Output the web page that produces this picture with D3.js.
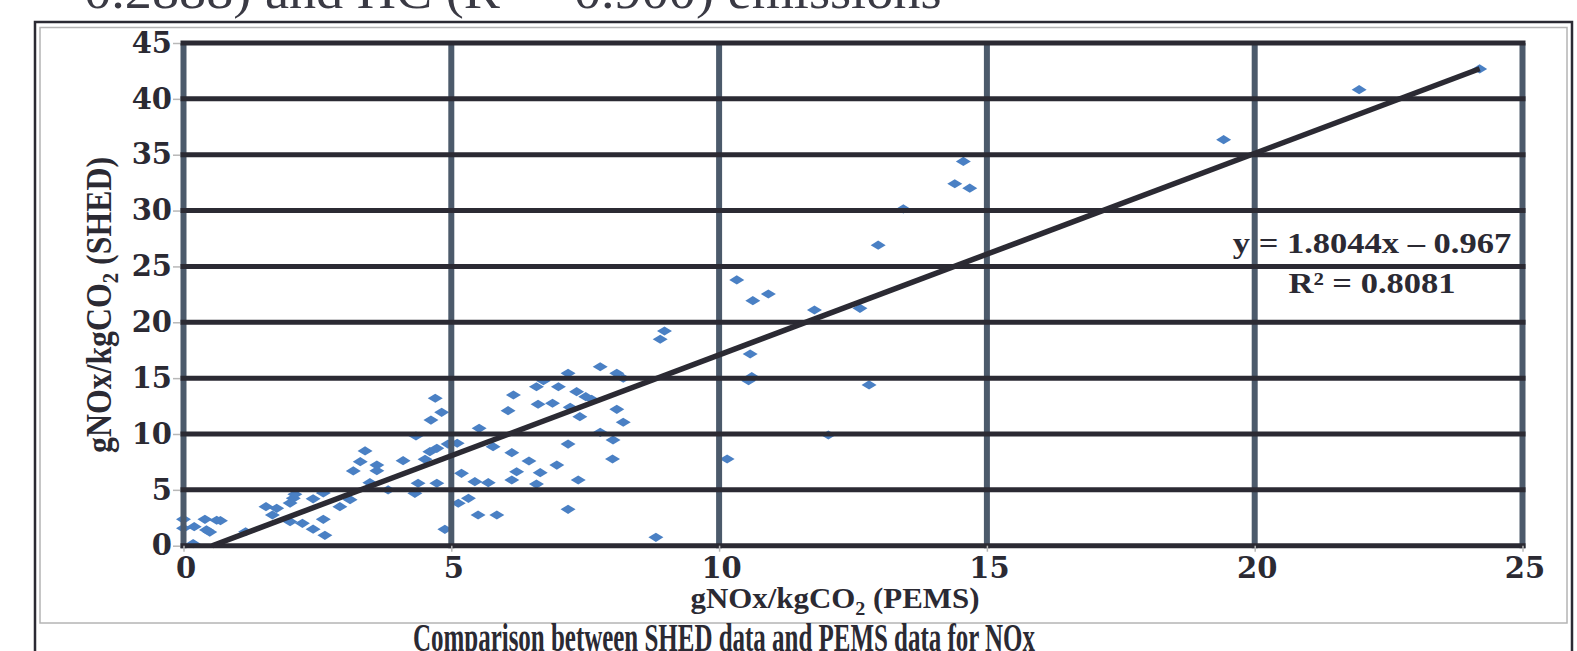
<!DOCTYPE html>
<html lang="en">
<head>
    <meta charset="UTF-8">
    <title>SHED vs PEMS NOx</title>
    <script src="https://d3js.org/d3.v7.min.js"></script>
    <style>
        body { margin: 0; background: #fff; }
        svg { display: block; }
    </style>
</head>
<body>
    <div class="canvas"></div>
    <script>
        const width = 1577;
        const height = 651;

        // values
        const pemsX = [
            0.00, 0.00, 0.20, 0.40, 0.62, 0.69, 0.43, 0.49, 0.18, 1.16,
            1.54, 1.74, 1.66, 1.99, 2.05, 2.08, 2.42, 2.61, 3.11, 2.92,
            2.22, 2.42, 2.61, 2.64, 1.99,
            3.17, 3.30, 3.39, 3.61, 3.61, 3.48, 3.82, 4.10, 4.32, 4.38,
            4.73, 4.51, 4.34, 4.60, 4.73, 4.94, 5.11, 4.62, 4.82, 4.70,
            5.52, 5.19, 5.13, 5.32, 5.44, 5.69, 5.50, 5.85, 4.88, 5.78,
            6.13, 6.22, 6.13, 6.16, 6.06,
            10.33, 10.63, 10.92, 11.78, 12.63, 8.98, 8.90, 10.58, 10.55, 10.61,
            12.80, 7.78, 7.18, 8.09, 8.21, 6.72, 6.59, 7.00, 7.34, 7.51,
            7.62, 6.62, 6.89, 7.22, 7.40, 8.09, 8.21, 7.78, 8.02, 7.18,
            8.01, 6.45, 6.97, 6.66, 6.59, 7.37, 7.18, 8.82, 10.15, 12.04,
            24.20, 21.95, 19.42, 14.56, 14.40, 14.68, 13.44, 12.97
        ];
        const shedY = [
            2.36, 1.56, 1.70, 2.36, 2.28, 2.24, 1.41, 1.22, 0.18, 1.25,
            3.49, 3.35, 2.75, 3.82, 4.24, 4.60, 4.20, 4.72, 4.12, 3.49,
            2.00, 1.48, 2.36, 0.93, 2.15,
            6.69, 7.52, 8.48, 7.22, 6.71, 5.64, 4.99, 7.61, 4.69, 5.59,
            5.59, 7.73, 9.82, 8.42, 8.72, 9.10, 9.17, 11.25, 11.94, 13.20,
            10.51, 6.48, 3.80, 4.24, 5.73, 5.64, 2.75, 2.75, 1.47, 8.86,
            8.33, 6.62, 5.88, 13.49, 12.09,
            23.79, 21.93, 22.53, 21.10, 21.25, 19.22, 18.48, 17.16, 14.77, 15.13,
            14.39, 16.02, 15.43, 15.43, 14.99, 14.77, 14.23, 14.23, 13.79, 13.34,
            13.11, 12.66, 12.75, 12.39, 11.55, 12.21, 11.05, 10.15, 9.46, 9.10,
            7.76, 7.58, 7.22, 6.54, 5.52, 5.88, 3.26, 0.75, 7.76, 9.91,
            42.68, 40.82, 36.35, 34.40, 32.40, 32.00, 30.15, 26.90
        ];
        const xTicks = [0, 5, 10, 15, 20, 25];
        const yTicks = [0, 5, 10, 15, 20, 25, 30, 35, 40, 45];

        const trendSlope = 1.8044;
        const trendIntercept = -0.967;
        const equationLines = ['y = 1.8044x \u2013 0.967', 'R\u00b2 = 0.8081'];

        const xLabel = ['gNOx/kgCO', '2', ' (PEMS)'];
        const yLabel = ['gNOx/kgCO', '2', ' (SHED)'];
        const caption = 'Comparison between SHED data and PEMS data for NOx';
        const topText = '= 0.2888) and HC (R\u00b2 = 0.900) emissions';

        const dark = '#2b2a33';
        const slate = '#4c5a6b';
        const blue = '#4a80c4';
        const serif = '"Liberation Serif", serif';
        const tickFont = '"DejaVu Serif", serif';

        const data = pemsX.map((v, i) => ({ x: v, y: shedY[i] }));

        const svg = d3.select('.canvas')
            .append('svg')
            .attr('width', width)
            .attr('height', height);

        // squeeze/stretch a text horizontally about its anchor point
        function stretch(sel, sx) {
            sel.attr('transform', function () {
                const x = +this.getAttribute('x') || 0;
                const y = +this.getAttribute('y') || 0;
                return `translate(${x},${y}) scale(${sx},1) translate(${-x},${-y})`;
            });
        }

        // cut-off text of the page above
        svg.append('text')
            .attr('x', 40)
            .attr('y', 8)
            .attr('font-family', serif)
            .attr('font-size', 50)
            .attr('fill', '#3a3a44')
            .text(topText)
            .call(stretch, 1.085);

        // frames
        svg.append('path')
            .attr('d', `M35,${height + 5}V22H1572V${height + 5}`)
            .attr('fill', 'none')
            .attr('stroke', dark)
            .attr('stroke-width', 2.5);
        svg.append('rect')
            .attr('x', 40).attr('y', 27.5)
            .attr('width', 1527).attr('height', 595.5)
            .attr('fill', 'none')
            .attr('stroke', '#b4b4b4')
            .attr('stroke-width', 1.5);

        const x = d3.scaleLinear().domain([0, 25]).range([183.5, 1522.5]);
        const y = d3.scaleLinear().domain([0, 45]).range([545.7, 43]);

        // markers first, grid lines drawn on top of them like the original
        svg.append('g')
            .selectAll('path')
            .data(data)
            .enter()
            .append('path')
            .attr('d', 'M-7.5,0L0,-4.6L7.5,0L0,4.6Z')
            .attr('transform', d => `translate(${x(d.x)},${y(d.y)})`)
            .attr('fill', blue);

        const grid = svg.append('g');
        grid.selectAll('line.v')
            .data(xTicks)
            .enter()
            .append('line')
            .attr('class', 'v')
            .attr('x1', d => x(d)).attr('x2', d => x(d))
            .attr('y1', y(45)).attr('y2', y(0) + 2.5)
            .attr('stroke', slate)
            .attr('stroke-width', 6);
        grid.selectAll('line.h')
            .data(yTicks)
            .enter()
            .append('line')
            .attr('class', 'h')
            .attr('x1', x(0) - 3).attr('x2', x(25) + 3)
            .attr('y1', d => y(d)).attr('y2', d => y(d))
            .attr('stroke', dark)
            .attr('stroke-width', 5);

        // trend line over the data range
        const xStart = -trendIntercept / trendSlope;
        const xEnd = d3.max(pemsX);
        svg.append('line')
            .attr('x1', x(xStart)).attr('y1', y(trendSlope * xStart + trendIntercept))
            .attr('x2', x(xEnd)).attr('y2', y(trendSlope * xEnd + trendIntercept))
            .attr('stroke', dark)
            .attr('stroke-width', 5.5);

        // axes
        const yAxisG = svg.append('g')
            .attr('transform', 'translate(180,0)')
            .call(d3.axisLeft(y).tickValues(yTicks).tickSize(7).tickPadding(1));
        const xAxisG = svg.append('g')
            .attr('transform', `translate(0,${y(0)})`)
            .call(d3.axisBottom(x).tickValues(xTicks).tickSize(6).tickPadding(6));

        [yAxisG, xAxisG].forEach(g => {
            g.select('.domain').remove();
            g.selectAll('line').attr('stroke', '#b8b8b8').attr('stroke-width', 1.5);
            g.selectAll('text')
                .attr('font-family', tickFont)
                .attr('font-weight', 'bold')
                .attr('font-size', 29)
                .attr('fill', dark);
        });
        xAxisG.selectAll('text').attr('dx', 2);

        // axis titles with subscript
        function labelText(sel, parts) {
            sel.append('tspan').text(parts[0]);
            sel.append('tspan').attr('font-size', '0.65em').attr('dy', 7).text(parts[1]);
            sel.append('tspan').attr('dy', -7).text(parts[2]);
        }

        const xTitle = svg.append('text')
            .attr('x', 835)
            .attr('y', 608)
            .attr('text-anchor', 'middle')
            .attr('font-family', serif)
            .attr('font-weight', 'bold')
            .attr('font-size', 30)
            .attr('fill', dark);
        labelText(xTitle, xLabel);
        stretch(xTitle, 1.03);

        const yTitle = svg.append('g')
            .attr('transform', 'translate(111,305) rotate(-90)')
            .append('text')
            .attr('x', 0)
            .attr('y', 0)
            .attr('text-anchor', 'middle')
            .attr('font-family', serif)
            .attr('font-weight', 'bold')
            .attr('font-size', 35)
            .attr('fill', dark);
        labelText(yTitle, yLabel);
        stretch(yTitle, 0.91);

        // regression equation
        svg.append('g')
            .selectAll('text')
            .data(equationLines)
            .enter()
            .append('text')
            .attr('x', 1372)
            .attr('y', (d, i) => 253 + i * 40)
            .attr('text-anchor', 'middle')
            .attr('font-family', serif)
            .attr('font-weight', 'bold')
            .attr('font-size', 30)
            .attr('fill', dark)
            .text(d => d)
            .call(stretch, 1.15);

        // caption under the frame
        svg.append('text')
            .attr('x', 724)
            .attr('y', 651)
            .attr('text-anchor', 'middle')
            .attr('font-family', serif)
            .attr('font-weight', 'bold')
            .attr('font-size', 40)
            .attr('fill', dark)
            .text(caption)
            .call(stretch, 0.624);
    </script>
</body>
</html>
